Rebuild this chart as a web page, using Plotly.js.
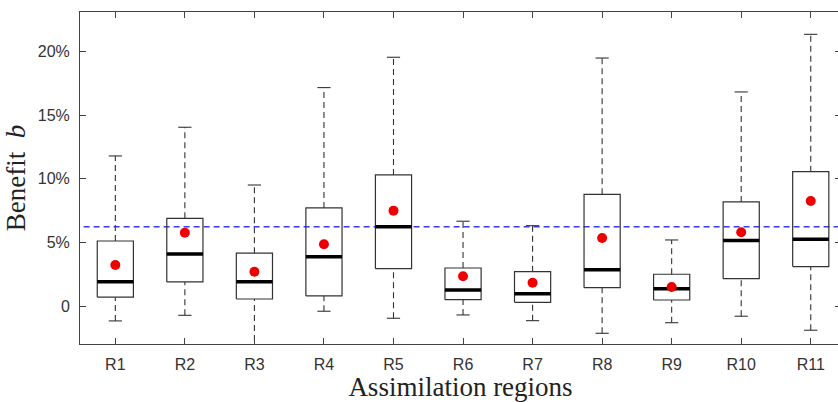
<!DOCTYPE html>
<html>
<head>
<meta charset="utf-8">
<script src="https://cdn.plot.ly/plotly-3.0.1.min.js"></script>
<style>html,body{margin:0;padding:0;overflow:hidden;background:#fff;}#chart{width:841px;height:402px;}</style>
</head>
<body>
<div id="chart"></div>
<script>
const regions = ["R1","R2","R3","R4","R5","R6","R7","R8","R9","R10","R11"];
const upperWhisker = [11.79, 14.04, 9.51, 17.15, 19.53, 6.67, 6.32, 19.47, 5.20, 16.81, 21.33];
const q3Values     = [5.12, 6.90, 4.16, 7.71, 10.30, 3.00, 2.71, 8.78, 2.51, 8.18, 10.56];
const medianValues = [1.93, 4.10, 1.93, 3.89, 6.24, 1.28, 0.99, 2.87, 1.38, 5.15, 5.25];
const q1Values     = [0.71, 1.91, 0.57, 0.81, 2.95, 0.52, 0.31, 1.46, 0.49, 2.16, 3.11];
const lowerWhisker = [-1.15, -0.71, -3.5, -0.39, -0.94, -0.68, -1.13, -2.12, -1.29, -0.78, -1.88];
const meanValues   = [3.24, 5.77, 2.71, 4.86, 7.50, 2.35, 1.85, 5.36, 1.51, 5.80, 8.26];
const referenceLevel = 6.24;
const yTickVals = [0, 5, 10, 15, 20];
const yTickText = ["0", "5%", "10%", "15%", "20%"];

const idx = regions.map((_, i) => i);
const halfBox = 0.26, halfCap = 0.095, halfMed = 0.26;

// whiskers (dashed)
const wx = [], wy = [];
idx.forEach(i => {
  wx.push(i, i, null, i, i, null);
  wy.push(q3Values[i], upperWhisker[i], null, lowerWhisker[i], q1Values[i], null);
});
// caps
const cx = [], cy = [];
idx.forEach(i => {
  cx.push(i - halfCap, i + halfCap, null);
  cy.push(upperWhisker[i], upperWhisker[i], null);
  if (lowerWhisker[i] > -2.96) {
    cx.push(i - halfCap, i + halfCap, null);
    cy.push(lowerWhisker[i], lowerWhisker[i], null);
  }
});
// boxes
const bx = [], by = [];
idx.forEach(i => {
  bx.push(i - halfBox, i + halfBox, i + halfBox, i - halfBox, i - halfBox, null);
  by.push(q1Values[i], q1Values[i], q3Values[i], q3Values[i], q1Values[i], null);
});
// medians
const mx = [], my = [];
idx.forEach(i => {
  mx.push(i - halfMed, i + halfMed, null);
  my.push(medianValues[i], medianValues[i], null);
});

const traces = [
  {x: [-0.6, 10.6], y: [referenceLevel, referenceLevel], mode: 'lines',
   line: {color: '#3a3af0', width: 1.6, dash: '6px,4px'}, hoverinfo: 'skip'},
  {x: wx, y: wy, mode: 'lines', line: {color: '#333', width: 1.1, dash: '6px,4px'}, hoverinfo: 'skip'},
  {x: cx, y: cy, mode: 'lines', line: {color: '#333', width: 1.1}, hoverinfo: 'skip'},
  {x: bx, y: by, mode: 'lines', line: {color: '#333', width: 1.2}, hoverinfo: 'skip'},
  {x: mx, y: my, mode: 'lines', line: {color: '#000', width: 3.5}, hoverinfo: 'skip'},
  {x: idx, y: meanValues, mode: 'markers', marker: {color: '#ee0000', size: 10}, hoverinfo: 'skip'}
];

const layout = {
  width: 841, height: 402,
  margin: {l: 80, r: 0, t: 12, b: 58},
  paper_bgcolor: '#fff', plot_bgcolor: '#fff',
  showlegend: false,
  font: {family: 'Liberation Sans, Arial, sans-serif', size: 16, color: '#333'},
  xaxis: {
    range: [-0.508, 10.435], tickvals: idx, ticktext: regions,
    tickfont: {family: 'Liberation Sans, Arial, sans-serif', size: 16, color: '#333'},
    ticks: 'inside', ticklen: 6, tickcolor: '#444', tickwidth: 1,
    showline: true, linecolor: '#444', linewidth: 1, mirror: 'ticks',
    showgrid: false, zeroline: false, ticklabelstandoff: 6,
    title: {text: 'Assimilation regions', font: {family: 'Liberation Serif, Times New Roman, serif', size: 27, color: '#222'}, standoff: 4}
  },
  yaxis: {
    range: [-2.96, 23.08], tickvals: yTickVals, ticktext: yTickText,
    tickfont: {family: 'Liberation Sans, Arial, sans-serif', size: 16, color: '#333'},
    ticks: 'inside', ticklen: 6, tickcolor: '#444', tickwidth: 1,
    showline: true, linecolor: '#444', linewidth: 1, mirror: 'ticks',
    showgrid: false, zeroline: false, ticklabelstandoff: 6,
    title: {text: 'Benefit  <i>b</i>', font: {family: 'Liberation Serif, Times New Roman, serif', size: 27, color: '#222'}, standoff: 4}
  }
};

Plotly.newPlot('chart', traces, layout, {displayModeBar: false, staticPlot: true});
</script>
</body>
</html>
